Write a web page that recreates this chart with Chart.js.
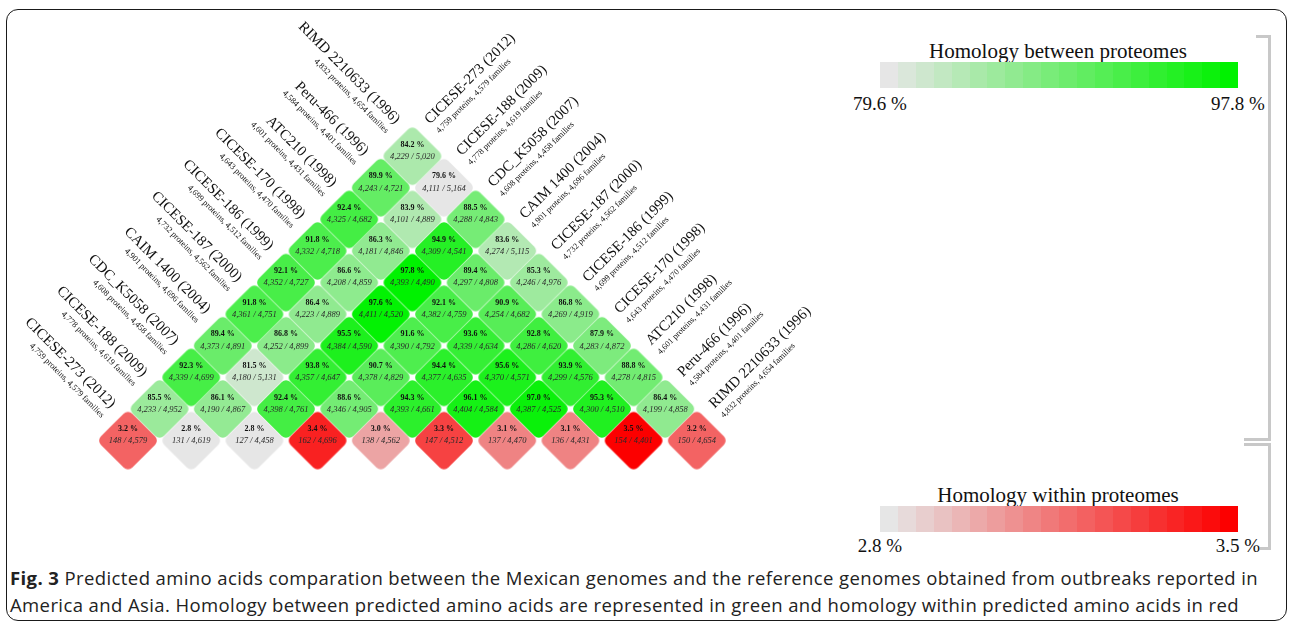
<!DOCTYPE html>
<html><head><meta charset="utf-8">
<script src="https://cdn.jsdelivr.net/npm/chart.js@4.4.1/dist/chart.umd.min.js"></script>
<style>
html,body{margin:0;padding:0;background:#fff;width:1292px;height:626px;overflow:hidden;}
#frame{position:absolute;left:6px;top:9px;width:1281px;height:612px;border:1.5px solid #1a1a1a;border-radius:12px;box-sizing:border-box;}
#wrap{position:absolute;left:0;top:0;width:840px;height:560px;}
.ser{position:absolute;font-family:"Liberation Serif",serif;color:#111;line-height:1;white-space:nowrap;}
.bar{position:absolute;left:880px;width:358px;height:26px;display:flex;}
.bar div{flex:1;}
.gl{position:absolute;background:#c8c8c8;}
#caption{position:absolute;left:10px;top:564px;font-family:"Open Sans",sans-serif;font-size:18.5px;letter-spacing:0.4px;line-height:27px;color:#222;white-space:nowrap;}
</style></head>
<body>
<div id="frame"></div>
<div id="wrap"><canvas id="c" width="840" height="560"></canvas></div>

<div class="ser" style="font-size:21px;top:41px;left:1058px;transform:translateX(-50%);">Homology between proteomes</div>
<div class="bar" id="bar1" style="top:62px;"></div>
<div class="ser" id="l1a" style="font-size:19px;top:94px;left:880px;transform:translateX(-50%);"></div>
<div class="ser" id="l1b" style="font-size:19px;top:94px;left:1238px;transform:translateX(-50%);"></div>

<div class="ser" style="font-size:21px;top:485px;left:1058px;transform:translateX(-50%);">Homology within proteomes</div>
<div class="bar" id="bar2" style="top:506px;"></div>
<div class="ser" id="l2a" style="font-size:19px;top:536px;left:880px;transform:translateX(-50%);"></div>
<div class="ser" id="l2b" style="font-size:19px;top:536px;left:1238px;transform:translateX(-50%);"></div>

<div class="gl" style="left:1256px;top:35px;width:15px;height:3px;"></div>
<div class="gl" style="left:1268px;top:35px;width:3px;height:406px;"></div>
<div class="gl" style="left:1244px;top:438px;width:27px;height:3px;"></div>
<div class="gl" style="left:1244px;top:443px;width:27px;height:3px;"></div>
<div class="gl" style="left:1268px;top:443px;width:3px;height:107px;"></div>
<div class="gl" style="left:1260px;top:547px;width:11px;height:3px;"></div>

<div id="caption"><b>Fig. 3</b> Predicted amino acids comparation between the Mexican genomes and the reference genomes obtained from outbreaks reported in<br>America and Asia. Homology between predicted amino acids are represented in green and homology within predicted amino acids in red</div>

<script>
// ---------------- DATA ----------------
const genomes  = ["CICESE-273","CICESE-188","CDC_K5058","CAIM 1400","CICESE-187","CICESE-186","CICESE-170","ATC210","Peru-466","RIMD 2210633"];
const years    = [2012, 2009, 2007, 2004, 2000, 1999, 1998, 1998, 1996, 1996];
const proteins = [4759, 4778, 4608, 4901, 4732, 4699, 4643, 4601, 4584, 4832];
const families = [4579, 4619, 4458, 4696, 4562, 4512, 4470, 4431, 4401, 4654];

// homology within each proteome (bottom row, red)
const withinPct    = [3.2, 2.8, 2.8, 3.4, 3.0, 3.3, 3.1, 3.1, 3.5, 3.2];
const withinShared = [148, 131, 127, 162, 138, 147, 137, 136, 154, 150];

// homology between proteomes: entry [d-1][i] is the pair (genome i, genome i+d)
const betweenPct = [
  [85.5, 86.1, 92.4, 88.6, 94.3, 96.1, 97.0, 95.3, 86.4],
  [92.3, 81.5, 93.8, 90.7, 94.4, 95.6, 93.9, 88.8],
  [89.4, 86.8, 95.5, 91.6, 93.6, 92.8, 87.9],
  [91.8, 86.4, 97.6, 92.1, 90.9, 86.8],
  [92.1, 86.6, 97.8, 89.4, 85.3],
  [91.8, 86.3, 94.9, 83.6],
  [92.4, 83.9, 88.5],
  [89.9, 79.6],
  [84.2]
];
const betweenShared = [
  [4233, 4190, 4398, 4346, 4393, 4404, 4387, 4300, 4199],
  [4339, 4180, 4357, 4378, 4377, 4370, 4299, 4278],
  [4373, 4252, 4384, 4390, 4339, 4286, 4283],
  [4361, 4223, 4411, 4382, 4254, 4269],
  [4352, 4208, 4393, 4297, 4246],
  [4332, 4181, 4309, 4274],
  [4325, 4101, 4288],
  [4243, 4111],
  [4229]
];
const betweenTotal = [
  [4952, 4867, 4761, 4905, 4661, 4584, 4525, 4510, 4858],
  [4699, 5131, 4647, 4829, 4635, 4571, 4576, 4815],
  [4891, 4899, 4590, 4792, 4634, 4620, 4872],
  [4751, 4889, 4520, 4759, 4682, 4919],
  [4727, 4859, 4490, 4808, 4976],
  [4718, 4846, 4541, 5115],
  [4682, 4889, 4843],
  [4721, 5164],
  [5020]
];
const greenRange = [79.6, 97.8];
const redRange   = [2.8, 3.5];

// ---------------- STYLE / LAYOUT ----------------
const GRAY = [230,230,230], GREEN = [0,242,0], RED = [252,0,0];
const CW = 840, CH = 560;
const X0 = 128, DX = 63.2;     // pixel of genome 0 column, column spacing
const Y0 = 440.6, DY = 31.6;   // pixel of bottom row centre, row spacing
const R = DX / 2;              // half-diagonal of a diamond
const CORNER = 6;
const LABEL_GAP = 35;

function mix(a, b, t) {
  t = Math.max(0, Math.min(1, t));
  return 'rgb(' + a.map((v, k) => Math.round(v + (b[k] - v) * t)).join(',') + ')';
}
const fmt = n => n.toLocaleString('en-US');

function fillBar(id, end) {
  const el = document.getElementById(id);
  for (let k = 0; k < 20; k++) {
    const d = document.createElement('div');
    d.style.background = mix(GRAY, end, k / 19);
    el.appendChild(d);
  }
}
fillBar('bar1', GREEN); fillBar('bar2', RED);
document.getElementById('l1a').textContent = greenRange[0].toFixed(1) + ' %';
document.getElementById('l1b').textContent = greenRange[1].toFixed(1) + ' %';
document.getElementById('l2a').textContent = redRange[0].toFixed(1) + ' %';
document.getElementById('l2b').textContent = redRange[1].toFixed(1) + ' %';

const cells = [];
genomes.forEach((g, i) => cells.push({x: i, y: 0, pct: withinPct[i], a: withinShared[i], b: families[i],
  color: mix(GRAY, RED, (withinPct[i] - redRange[0]) / (redRange[1] - redRange[0]))}));
betweenPct.forEach((row, d0) => row.forEach((p, i) => cells.push({x: i + (d0 + 1) / 2, y: d0 + 1, pct: p,
  a: betweenShared[d0][i], b: betweenTotal[d0][i],
  color: mix(GRAY, GREEN, (p - greenRange[0]) / (greenRange[1] - greenRange[0]))})));

function roundedDiamond(ctx, cx, cy, r, rc) {
  const pts = [[cx, cy - r], [cx + r, cy], [cx, cy + r], [cx - r, cy]];
  ctx.beginPath();
  ctx.moveTo((pts[3][0] + pts[0][0]) / 2, (pts[3][1] + pts[0][1]) / 2);
  for (let k = 0; k < 4; k++) { const p = pts[k], n = pts[(k + 1) % 4]; ctx.arcTo(p[0], p[1], n[0], n[1], rc); }
  ctx.closePath();
}
const S = Math.ceil(2 * R) + 2;
const styles = cells.map(c => {
  const cv = document.createElement('canvas'); cv.width = S; cv.height = S;
  const g = cv.getContext('2d');
  roundedDiamond(g, S / 2, S / 2, R - 0.25, CORNER);
  g.fillStyle = c.color; g.fill();
  return cv;
});

const cellText = {
  id: 'cellText',
  afterDatasetsDraw(chart) {
    const ctx = chart.ctx, meta = chart.getDatasetMeta(0);
    ctx.save();
    ctx.textAlign = 'center'; ctx.textBaseline = 'middle';
    meta.data.forEach((el, k) => {
      const c = cells[k];
      ctx.fillStyle = '#111';
      ctx.font = 'bold 8px "Liberation Serif"';
      ctx.fillText(c.pct.toFixed(1) + ' %', el.x, el.y - 11.5);
      ctx.fillStyle = '#2a2a2a';
      ctx.font = 'italic 8.5px "Liberation Serif"';
      ctx.fillText(fmt(c.a) + ' / ' + fmt(c.b), el.x, el.y + 0.5);
    });
    const xs = chart.scales.x, ys = chart.scales.y, o = LABEL_GAP / Math.SQRT2;
    const n = genomes.length;
    genomes.forEach((g, j) => {
      const main = g + ' (' + years[j] + ')';
      const sub = fmt(proteins[j]) + ' proteins, ' + fmt(families[j]) + ' families';
      let px = xs.getPixelForValue(j / 2), py = ys.getPixelForValue(j);
      ctx.save(); ctx.translate(px - o, py - o); ctx.rotate(Math.PI / 4);
      ctx.textAlign = 'right'; ctx.textBaseline = 'alphabetic'; ctx.fillStyle = '#111';
      ctx.font = '14.8px "Liberation Serif"'; ctx.fillText(main, 0, -10);
      ctx.font = '8.5px "Liberation Serif"'; ctx.fillText(sub, 0, 3);
      ctx.restore();
      px = xs.getPixelForValue((j + n - 1) / 2); py = ys.getPixelForValue(n - 1 - j);
      ctx.save(); ctx.translate(px + o, py - o); ctx.rotate(-Math.PI / 4);
      ctx.textAlign = 'left'; ctx.textBaseline = 'alphabetic'; ctx.fillStyle = '#111';
      ctx.font = '14.8px "Liberation Serif"'; ctx.fillText(main, 0, -10);
      ctx.font = '8.5px "Liberation Serif"'; ctx.fillText(sub, 0, 3);
      ctx.restore();
    });
    ctx.restore();
  }
};

new Chart(document.getElementById('c'), {
  type: 'scatter',
  data: { datasets: [{
    data: cells.map(c => ({x: c.x, y: c.y})),
    pointStyle: styles,
    pointRadius: R,
    pointHoverRadius: R,
    backgroundColor: cells.map(c => c.color),
    borderWidth: 0,
    clip: false
  }]},
  options: {
    responsive: false, devicePixelRatio: 1, animation: false,
    layout: { padding: 0, autoPadding: false },
    plugins: { legend: { display: false }, tooltip: { enabled: false } },
    events: [],
    scales: {
      x: { type: 'linear', display: false, bounds: 'data', grace: 0, offset: false,
           min: -X0 / DX, max: (CW - X0) / DX, ticks: { includeBounds: true } },
      y: { type: 'linear', display: false, bounds: 'data', grace: 0, offset: false,
           min: (Y0 - CH) / DY, max: Y0 / DY, ticks: { includeBounds: true } }
    }
  },
  plugins: [cellText]
});
</script>
</body></html>
